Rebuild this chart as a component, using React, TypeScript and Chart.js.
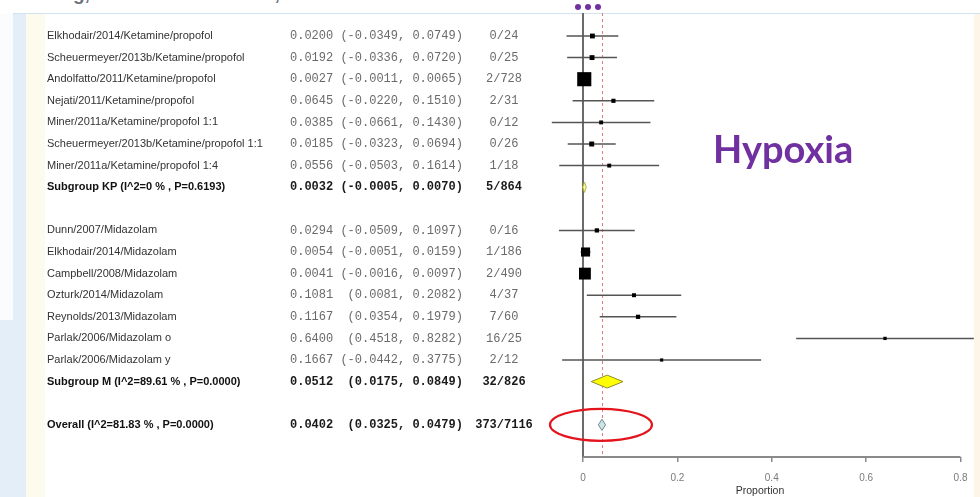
import React, { useEffect, useRef } from "react";
import { Chart, registerables } from "chart.js";

Chart.register(...registerables);

// ---------- data ----------
const studyNames = [
  "Elkhodair/2014/Ketamine/propofol",
  "Scheuermeyer/2013b/Ketamine/propofol",
  "Andolfatto/2011/Ketamine/propofol",
  "Nejati/2011/Ketamine/propofol",
  "Miner/2011a/Ketamine/propofol 1:1",
  "Scheuermeyer/2013b/Ketamine/propofol 1:1",
  "Miner/2011a/Ketamine/propofol 1:4",
  "Dunn/2007/Midazolam",
  "Elkhodair/2014/Midazolam",
  "Campbell/2008/Midazolam",
  "Ozturk/2014/Midazolam",
  "Reynolds/2013/Midazolam",
  "Parlak/2006/Midazolam o",
  "Parlak/2006/Midazolam y",
];
const studyGroups = ["KP", "KP", "KP", "KP", "KP", "KP", "KP", "M", "M", "M", "M", "M", "M", "M"];
const studyEst = [0.02, 0.0192, 0.0027, 0.0645, 0.0385, 0.0185, 0.0556, 0.0294, 0.0054, 0.0041, 0.1081, 0.1167, 0.64, 0.1667];
const studyLower = [-0.0349, -0.0336, -0.0011, -0.022, -0.0661, -0.0323, -0.0503, -0.0509, -0.0051, -0.0016, 0.0081, 0.0354, 0.4518, -0.0442];
const studyUpper = [0.0749, 0.072, 0.0065, 0.151, 0.143, 0.0694, 0.1614, 0.1097, 0.0159, 0.0097, 0.2082, 0.1979, 0.8282, 0.3775];
const studyEvents = ["0/24", "0/25", "2/728", "2/31", "0/12", "0/26", "1/18", "0/16", "1/186", "2/490", "4/37", "7/60", "16/25", "2/12"];

const subgroupKeys = ["KP", "M"];
const subgroupLabels = ["Subgroup KP (I^2=0 % , P=0.6193)", "Subgroup M (I^2=89.61 % , P=0.0000)"];
const subgroupEst = [0.0032, 0.0512];
const subgroupLower = [-0.0005, 0.0175];
const subgroupUpper = [0.007, 0.0849];
const subgroupEvents = ["5/864", "32/826"];

const overallLabel = "Overall (I^2=81.83 % , P=0.0000)";
const overallEst = [0.0402];
const overallLower = [0.0325];
const overallUpper = [0.0479];
const overallEvents = ["373/7116"];

const xTickValues = [0, 0.2, 0.4, 0.6, 0.8];
const xTitle = "Proportion";
const chartTitle = "Hypoxia";
const headerText = "making, risk communication, and informed consent";

// ---------- helpers ----------
type Row = { label: string; est: number; lo: number; hi: number; events: string; kind: "study" | "sub" | "overall"; row: number };

function buildRows(): Row[] {
  const rows: Row[] = [];
  let r = 0;
  subgroupKeys.forEach((g, gi) => {
    studyNames.forEach((name, i) => {
      if (studyGroups[i] !== g) return;
      rows.push({ label: name, est: studyEst[i], lo: studyLower[i], hi: studyUpper[i], events: studyEvents[i], kind: "study", row: r++ });
    });
    rows.push({ label: subgroupLabels[gi], est: subgroupEst[gi], lo: subgroupLower[gi], hi: subgroupUpper[gi], events: subgroupEvents[gi], kind: "sub", row: r++ });
    r++;
  });
  rows.push({ label: overallLabel, est: overallEst[0], lo: overallLower[0], hi: overallUpper[0], events: overallEvents[0], kind: "overall", row: r });
  return rows;
}

function ciText(e: number, lo: number, hi: number) {
  return `${e.toFixed(4)} ${lo < 0 ? "" : " "}(${lo.toFixed(4)}, ${hi.toFixed(4)})`;
}

export default function App() {
  const ref = useRef<HTMLCanvasElement>(null);

  useEffect(() => {
    const canvas = ref.current;
    if (!canvas) return;
    const rows = buildRows();
    const studies = rows.filter((r) => r.kind === "study");
    const summaries = rows.filter((r) => r.kind !== "study");

    const ciSets = studies.map((s) => ({
      type: "line" as const,
      data: [
        { x: s.lo, y: s.row },
        { x: s.hi, y: s.row },
      ],
      borderColor: "#555555",
      borderWidth: 1.5,
      pointRadius: 0,
      fill: false,
      order: 3,
    }));

    const markerSet = {
      type: "line" as const,
      data: studies.map((s) => ({ x: s.est, y: s.row })),
      showLine: false,
      pointStyle: "rect" as const,
      pointRadius: (ctx: any) => {
        const s = studies[ctx.dataIndex];
        if (!s) return 3;
        const side = 1.5 + 1.1 / Math.sqrt(s.hi - s.lo);
        return side / 1.414;
      },
      pointBackgroundColor: "#000",
      pointBorderWidth: 0,
      borderWidth: 0,
      order: 2,
    };

    const diamondStyle: Record<string, { fill: string; stroke: string; h: number }> = {
      sub0: { fill: "#f6f6b0", stroke: "#b8b830", h: 0.24 },
      sub1: { fill: "#ffff00", stroke: "#8c8c2a", h: 0.3 },
      overall: { fill: "#cfe2e6", stroke: "#6a8c95", h: 0.26 },
    };
    let subIdx = 0;
    const diamondSets = summaries.map((s) => {
      const st = s.kind === "overall" ? diamondStyle.overall : diamondStyle["sub" + subIdx++];
      return {
        type: "line" as const,
        data: [
          { x: s.lo, y: s.row },
          { x: s.est, y: s.row - st.h },
          { x: s.hi, y: s.row },
          { x: s.est, y: s.row + st.h },
          { x: s.lo, y: s.row },
        ],
        borderColor: st.stroke,
        backgroundColor: st.fill,
        borderWidth: 1,
        pointRadius: 0,
        fill: "shape",
        tension: 0,
        order: 1,
      };
    });

    const forestPlugin = {
      id: "forest",
      beforeDatasetsDraw(chart: any) {
        const { ctx, chartArea: a, scales } = chart;
        const x = scales.x;
        ctx.save();
        ctx.strokeStyle = "#6b6b6b";
        ctx.lineWidth = 2;
        ctx.beginPath();
        ctx.moveTo(x.getPixelForValue(0), a.top);
        ctx.lineTo(x.getPixelForValue(0), a.bottom);
        ctx.stroke();
        ctx.strokeStyle = "#e07c7c";
        ctx.lineWidth = 1;
        ctx.setLineDash([3, 3]);
        const ox = Math.round(x.getPixelForValue(overallEst[0])) + 0.5;
        ctx.beginPath();
        ctx.moveTo(ox, a.top);
        ctx.lineTo(ox, a.bottom);
        ctx.stroke();
        ctx.restore();
      },
      afterDatasetsDraw(chart: any) {
        const { ctx, chartArea: a, scales } = chart;
        const x = scales.x;
        const y = scales.y;
        ctx.save();
        ctx.strokeStyle = "#8a8a8a";
        ctx.lineWidth = 2;
        ctx.beginPath();
        ctx.moveTo(x.getPixelForValue(xTickValues[0]), a.bottom);
        ctx.lineTo(x.getPixelForValue(xTickValues[xTickValues.length - 1]), a.bottom);
        ctx.stroke();

        ctx.textBaseline = "middle";
        rows.forEach((r) => {
          const py = y.getPixelForValue(r.row);
          const bold = r.kind !== "study";
          ctx.textAlign = "left";
          ctx.font = `${bold ? "bold " : ""}11px 'Liberation Sans', Arial, sans-serif`;
          ctx.fillStyle = bold ? "#111" : "#333";
          ctx.fillText(r.label, 47, py);
          ctx.font = `${bold ? "bold " : ""}12px 'Liberation Mono', monospace`;
          ctx.fillStyle = bold ? "#1a1a1a" : "#6a6a6a";
          ctx.fillText(ciText(r.est, r.lo, r.hi), 290, py);
          ctx.textAlign = "center";
          ctx.fillText(r.events, 504, py);
        });

        const ov = rows[rows.length - 1];
        ctx.strokeStyle = "#e3141b";
        ctx.lineWidth = 2.2;
        ctx.beginPath();
        ctx.ellipse(x.getPixelForValue(ov.est) - 1, y.getPixelForValue(ov.row), 51, 16, 0, 0, Math.PI * 2);
        ctx.stroke();
        ctx.restore();
      },
    };

    const chart = new Chart(canvas, {
      type: "line",
      data: { datasets: [...ciSets, markerSet, ...diamondSets] as any },
      options: {
        animation: false,
        responsive: false,
        events: [],
        layout: { padding: { left: 545, right: 5, top: 13, bottom: 0 } },
        plugins: { legend: { display: false }, tooltip: { enabled: false }, title: { display: false } },
        scales: {
          x: {
            type: "linear",
            min: -0.0805,
            max: 0.8307,
            afterBuildTicks: (s: any) => {
              s.ticks = xTickValues.map((v) => ({ value: v }));
            },
            afterFit: (s: any) => {
              s.height = 40;
            },
            ticks: {
              callback: (v: any) => (Number(v) === 0 ? "0" : Number(v).toFixed(1)),
              font: { size: 10, family: "'Liberation Sans', Arial, sans-serif" },
              color: "#7a7a7a",
              padding: 10,
              autoSkip: false,
              maxRotation: 0,
            },
            grid: { drawOnChartArea: false, tickLength: 5, color: "#8a8a8a", lineWidth: 1.5 },
            border: { display: false },
            title: {
              display: true,
              text: xTitle,
              font: { size: 10.5, family: "'Liberation Sans', Arial, sans-serif" },
              color: "#333",
              padding: { top: 0, bottom: 0 },
            },
          },
          y: { type: "linear", reverse: true, min: -1.065, max: 19.49, display: false },
        },
      } as any,
      plugins: [forestPlugin],
    });
    return () => chart.destroy();
  }, []);

  const abs = (s: React.CSSProperties): React.CSSProperties => ({ position: "absolute", ...s });

  return (
    <div style={{ position: "fixed", left: 0, top: 0, width: 980, height: 497, overflow: "hidden", background: "#ffffff" }}>
      <div style={abs({ left: 18, top: -16, height: 19, fontFamily: "'Liberation Sans', Arial, sans-serif", fontWeight: "bold", fontSize: 19, lineHeight: "19px", color: "#6c7280", whiteSpace: "nowrap" })}>{headerText}</div>
      <div style={abs({ left: 0, top: 6, width: 980, height: 8, background: "#ffffff" })} />
      <div style={abs({ left: 13, top: 13, width: 967, height: 1, background: "#d3e2ef" })} />
      <div style={abs({ left: 0, top: 14, width: 26, height: 483, background: "#e3eef9" })} />
      <div style={abs({ left: 0, top: 14, width: 13, height: 306, background: "#fafcfe" })} />
      <div style={abs({ left: 26, top: 14, width: 19, height: 483, background: "#fdfaee" })} />
      <div style={abs({ left: 974, top: 14, width: 6, height: 483, background: "#fcf5e8" })} />
      {[578, 588, 598].map((cx) => (
        <div key={cx} style={abs({ left: cx - 3, top: 4, width: 6, height: 6, borderRadius: 3, background: "#7030a0" })} />
      ))}
      <canvas ref={ref} width={980} height={497} style={abs({ left: 0, top: 0, width: 980, height: 497 })} />
      <div style={abs({ left: 713, top: 129, fontFamily: "Lato, 'Open Sans', sans-serif", fontWeight: 700, fontSize: 38, lineHeight: "38px", color: "#7030a0", whiteSpace: "nowrap" })}>{chartTitle}</div>
    </div>
  );
}
